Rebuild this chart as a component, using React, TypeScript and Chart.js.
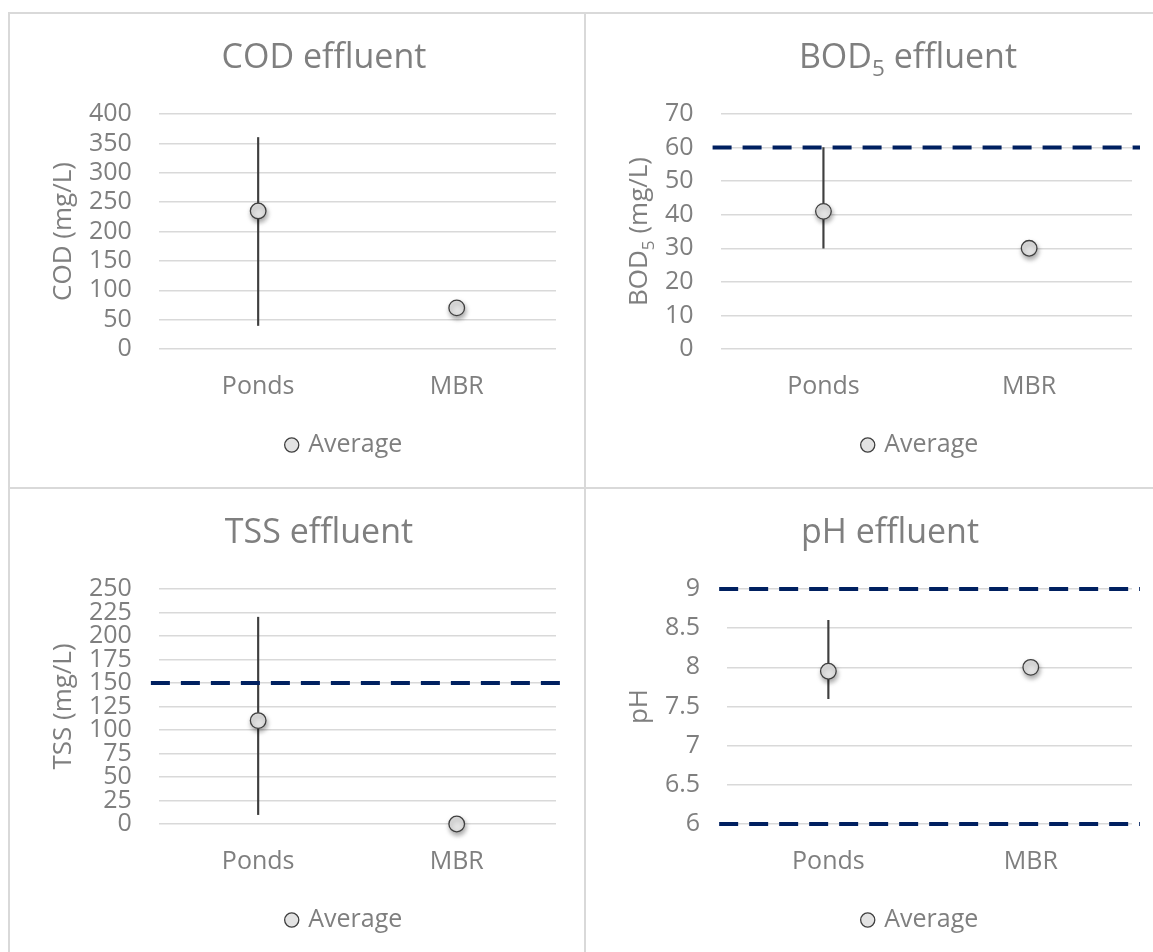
import React, { useEffect, useRef } from 'react';
import { Chart, registerables } from 'chart.js';

Chart.register(...registerables);

const FONT = "'Open Sans', 'Noto Sans', sans-serif";
const TEXT = '#7f7f7f';
const GRID = '#d9d9d9';
const LIMIT = '#002060';

// ---------- data ----------
const categories = ['Ponds', 'MBR'];
const legendLabel = 'Average';

const codAverage = [235, 70];
const codLow = [40, null];
const codHigh = [360, null];
const codLimits: number[] = [];
const codScale = [0, 400, 50];

const bodAverage = [41, 30];
const bodLow = [30, null];
const bodHigh = [60, null];
const bodLimits = [60];
const bodScale = [0, 70, 10];

const tssAverage = [110, 0];
const tssLow = [10, null];
const tssHigh = [220, null];
const tssLimits = [150];
const tssScale = [0, 250, 25];

const phAverage = [7.95, 8.0];
const phLow = [7.6, null];
const phHigh = [8.6, null];
const phLimits = [6, 9];
const phScale = [6, 9, 0.5];

type Seg = { t: string; sub?: boolean };

const codTitle: Seg[] = [{ t: 'COD effluent' }];
const bodTitle: Seg[] = [{ t: 'BOD' }, { t: '5', sub: true }, { t: ' effluent' }];
const tssTitle: Seg[] = [{ t: 'TSS effluent' }];
const phTitle: Seg[] = [{ t: 'pH effluent' }];

const codAxisTitle: Seg[] = [{ t: 'COD (mg/L)' }];
const bodAxisTitle: Seg[] = [{ t: 'BOD' }, { t: '5', sub: true }, { t: ' (mg/L)' }];
const tssAxisTitle: Seg[] = [{ t: 'TSS (mg/L)' }];
const phAxisTitle: Seg[] = [{ t: 'pH' }];

// ---------- drawing helpers ----------
function fontOf(size: number) {
  return `${size}px ${FONT}`;
}

function drawSegs(ctx: CanvasRenderingContext2D, segs: Seg[], cx: number, baseline: number, size: number) {
  const subSize = size * 0.66;
  let total = 0;
  const widths: number[] = [];
  for (const s of segs) {
    ctx.font = fontOf(s.sub ? subSize : size);
    const w = ctx.measureText(s.t).width;
    widths.push(w);
    total += w;
  }
  let x = cx - total / 2;
  ctx.textAlign = 'left';
  ctx.textBaseline = 'alphabetic';
  segs.forEach((s, i) => {
    ctx.font = fontOf(s.sub ? subSize : size);
    ctx.fillText(s.t, x, s.sub ? baseline + size * 0.24 : baseline);
    x += widths[i];
  });
}

const decorPlugin = {
  id: 'decor',
  afterLayout(chart: any, _args: any, opts: any) {
    const lg = chart.legend;
    if (lg && opts.legendX != null) {
      const w = lg.right - lg.left;
      lg.left = opts.legendX - w / 2;
      lg.right = opts.legendX + w / 2;
    }
  },
  beforeDatasetDraw(chart: any, args: any) {
    if (args.index === 1) {
      const ctx = chart.ctx;
      ctx.save();
      ctx.shadowColor = 'rgba(0,0,0,0.35)';
      ctx.shadowBlur = 5;
      ctx.shadowOffsetX = 1;
      ctx.shadowOffsetY = 3;
    }
  },
  afterDatasetDraw(chart: any, args: any) {
    if (args.index === 1) chart.ctx.restore();
  },
  afterDatasetsDraw(chart: any, _args: any, opts: any) {
    const ctx = chart.ctx;
    const area = chart.chartArea;
    const y = chart.scales.y;
    ctx.save();
    ctx.strokeStyle = LIMIT;
    ctx.lineWidth = 4;
    ctx.setLineDash([19, 11]);
    for (const v of opts.limits || []) {
      const py = y.getPixelForValue(v);
      ctx.beginPath();
      ctx.moveTo(area.left - 8, py);
      ctx.lineTo(area.right + 8, py);
      ctx.stroke();
    }
    ctx.restore();
  },
  afterDraw(chart: any, _args: any, opts: any) {
    const ctx = chart.ctx;
    const area = chart.chartArea;
    ctx.save();
    ctx.fillStyle = TEXT;
    drawSegs(ctx, opts.title, opts.titleX, 54, 34);
    ctx.translate(opts.axisTitleX, (area.top + area.bottom) / 2);
    ctx.rotate(-Math.PI / 2);
    drawSegs(ctx, opts.axisTitle, 0, 26 * 0.36, 26);
    ctx.restore();
  },
};

type PanelDef = {
  avg: number[];
  low: (number | null)[];
  high: (number | null)[];
  limits: number[];
  scale: number[];
  title: Seg[];
  axisTitle: Seg[];
  titleX: number;
  left: number;
  top: number;
};

const panels: PanelDef[] = [
  { avg: codAverage, low: codLow, high: codHigh, limits: codLimits, scale: codScale, title: codTitle, axisTitle: codAxisTitle, titleX: 314, left: 8, top: 12 },
  { avg: bodAverage, low: bodLow, high: bodHigh, limits: bodLimits, scale: bodScale, title: bodTitle, axisTitle: bodAxisTitle, titleX: 322, left: 584, top: 12 },
  { avg: tssAverage, low: tssLow, high: tssHigh, limits: tssLimits, scale: tssScale, title: tssTitle, axisTitle: tssAxisTitle, titleX: 309, left: 8, top: 487 },
  { avg: phAverage, low: phLow, high: phHigh, limits: phLimits, scale: phScale, title: phTitle, axisTitle: phAxisTitle, titleX: 304, left: 584, top: 487 },
];

const CW = 574;
const CH = 473;

function Panel({ def }: { def: PanelDef }) {
  const ref = useRef<HTMLCanvasElement | null>(null);
  useEffect(() => {
    if (!ref.current) return;
    const tickFont = { family: FONT, size: 25 };
    const chart = new Chart(ref.current, {
      type: 'bar',
      data: {
        labels: categories,
        datasets: [
          {
            type: 'bar',
            label: 'Range',
            data: def.low.map((l, i) => (l == null ? null : [l, def.high[i] as number])) as any,
            backgroundColor: '#3f3f3f',
            barThickness: 1.5,
            order: 2,
          } as any,
          {
            type: 'line',
            label: legendLabel,
            data: def.avg,
            showLine: false,
            clip: false,
            pointRadius: 7.8,
            pointHoverRadius: 7.8,
            pointBackgroundColor: '#e3e3e3',
            pointBorderColor: '#3f3f3f',
            pointBorderWidth: 1.3,
            backgroundColor: '#e3e3e3',
            borderColor: '#3f3f3f',
            borderWidth: 1.3,
            order: 1,
          } as any,
        ],
      },
      options: {
        responsive: false,
        animation: false,
        events: [],
        layout: { padding: { top: 100, left: 52, right: 28, bottom: 19.5 } },
        plugins: {
          title: { display: false },
          tooltip: { enabled: false },
          legend: {
            position: 'bottom',
            fullSize: false,
            labels: {
              filter: (it: any) => it.datasetIndex === 1,
              usePointStyle: true,
              pointStyle: 'circle',
              boxWidth: 8,
              boxHeight: 10,
              padding: 7.5,
              color: TEXT,
              font: tickFont,
            },
          },
          decor: {
            limits: def.limits,
            title: def.title,
            axisTitle: def.axisTitle,
            titleX: def.titleX,
            axisTitleX: 52,
            legendX: 335,
          },
        } as any,
        scales: {
          x: {
            grid: { display: false, drawTicks: false },
            border: { display: false },
            ticks: { color: TEXT, font: tickFont, padding: 23, maxRotation: 0 },
          },
          y: {
            min: def.scale[0],
            max: def.scale[1],
            grid: { color: GRID, lineWidth: 1.5, drawTicks: false },
            border: { display: false },
            ticks: {
              stepSize: def.scale[2],
              autoSkip: false,
              padding: 27,
              color: TEXT,
              font: tickFont,
              callback: (v: any) => String(Number(v)),
            },
          },
        },
      },
      plugins: [decorPlugin as any],
    });
    return () => chart.destroy();
  }, [def]);
  return (
    <div
      style={{
        position: 'absolute',
        left: def.left,
        top: def.top,
        width: CW,
        height: CH,
        border: `2px solid ${GRID}`,
        background: '#fff',
      }}
    >
      <canvas ref={ref} width={CW} height={CH} style={{ display: 'block', width: CW, height: CH }} />
    </div>
  );
}

export default function App() {
  return (
    <div
      style={{
        position: 'fixed',
        left: 0,
        top: 0,
        width: 1153,
        height: 952,
        overflow: 'hidden',
        background: '#fff',
      }}
    >
      {panels.map((p, i) => (
        <Panel key={i} def={p} />
      ))}
    </div>
  );
}
